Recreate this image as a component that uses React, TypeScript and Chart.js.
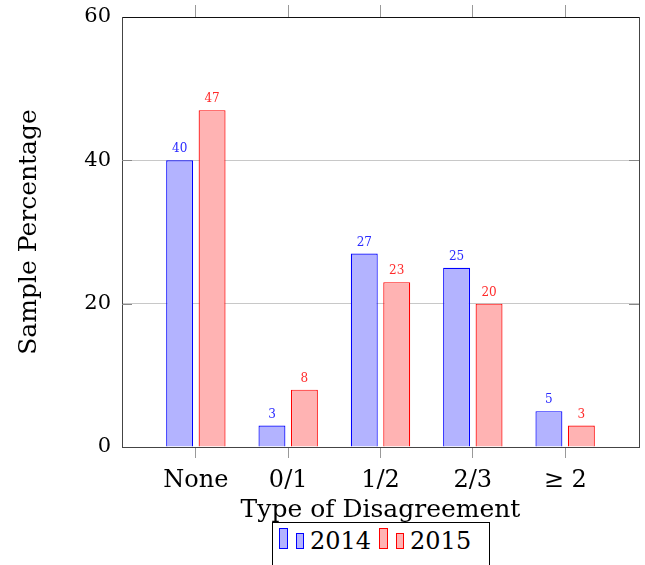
import React, { useEffect, useRef } from "react";
import { Chart, registerables } from "chart.js";

Chart.register(...registerables);

const categories = ["None", "0/1", "1/2", "2/3", "\u2265 2"];
const seriesNames = ["2014", "2015"];
const values2014 = [40, 3, 27, 25, 5];
const values2015 = [47, 8, 23, 20, 3];
const yTicks = [0, 20, 40, 60];

const FONT = "'DejaVu Serif', serif";
const BLUE_FILL = "#b3b3ff";
const BLUE_LINE = "#0000ff";
const RED_FILL = "#ffb3b3";
const RED_LINE = "#ff0000";

const catTicks = (scale: any) => {
  scale.ticks = categories.map((_, i) => ({ value: i }));
};

const noPad = (s: any) => {
  s.paddingTop = 0;
  s.paddingBottom = 0;
  s.paddingLeft = 0;
  s.paddingRight = 0;
};

const labelPlugin = {
  id: "barLabels",
  afterDatasetsDraw(chart: any) {
    const ctx = chart.ctx;
    ctx.save();
    ctx.font = `12px ${FONT}`;
    ctx.textAlign = "center";
    ctx.textBaseline = "alphabetic";
    chart.data.datasets.forEach((ds: any, di: number) => {
      const meta = chart.getDatasetMeta(di);
      ctx.fillStyle = ds.labelColor;
      meta.data.forEach((el: any, i: number) => {
        ctx.fillText(String(ds.data[i].y), el.x, el.y - 8);
      });
    });
    ctx.restore();
  },
};

const innerTicksPlugin = {
  id: "innerTicks",
  afterDraw(chart: any) {
    const ctx = chart.ctx;
    const y = chart.scales.y;
    const { left, right } = chart.chartArea;
    ctx.save();
    ctx.strokeStyle = "#888";
    ctx.lineWidth = 1;
    yTicks.slice(1, -1).forEach((v) => {
      const py = Math.round(y.getPixelForValue(v)) + 0.5;
      ctx.beginPath();
      ctx.moveTo(left, py);
      ctx.lineTo(left + 10, py);
      ctx.moveTo(right - 10, py);
      ctx.lineTo(right, py);
      ctx.stroke();
    });
    ctx.restore();
  },
};

export default function App() {
  const ref = useRef<HTMLCanvasElement>(null);
  useEffect(() => {
    if (!ref.current) return;
    const chart = new Chart(ref.current, {
      type: "bar",
      data: {
        datasets: [
          {
            label: seriesNames[0],
            data: values2014.map((v, i) => ({ x: i, y: v })),
            backgroundColor: BLUE_FILL,
            borderColor: BLUE_LINE,
            borderWidth: 1.2,
            labelColor: "#2a2aff",
          } as any,
          {
            label: seriesNames[1],
            data: values2015.map((v, i) => ({ x: i, y: v })),
            backgroundColor: RED_FILL,
            borderColor: RED_LINE,
            borderWidth: 1.2,
            labelColor: "#ff2a2a",
          } as any,
        ],
      },
      options: {
        responsive: false,
        animation: false,
        layout: { padding: 0 },
        categoryPercentage: 0.703,
        barPercentage: 0.83,
        plugins: { legend: { display: false }, tooltip: { enabled: false } },
        scales: {
          x: {
            type: "linear",
            position: "bottom",
            min: -0.8,
            max: 4.8,
            offset: false,
            afterBuildTicks: catTicks,
            afterFit: (s: any) => {
              s.height = 118;
              noPad(s);
            },
            grid: { offset: false, drawOnChartArea: false, drawTicks: true, tickLength: 11, color: "#999" },
            border: { display: true, color: "#444", width: 1 },
            ticks: {
              padding: 8,
              color: "#000",
              font: { family: FONT, size: 24 },
              callback: (v: any) => categories[v] ?? "",
              maxRotation: 0,
              autoSkip: false,
            },
            title: {
              display: true,
              text: "Type of Disagreement",
              color: "#000",
              font: { family: FONT, size: 25 },
              padding: { top: 0, bottom: 40 },
            },
          },
          x2: {
            type: "linear",
            position: "top",
            min: -0.8,
            max: 4.8,
            offset: false,
            afterBuildTicks: catTicks,
            afterFit: (s: any) => {
              s.height = 17;
              noPad(s);
            },
            grid: { offset: false, drawOnChartArea: false, drawTicks: true, tickLength: 12, color: "#999" },
            border: { display: true, color: "#111", width: 1 },
            ticks: { display: false },
          },
          y: {
            position: "left",
            min: 0,
            max: 60,
            afterBuildTicks: (s: any) => {
              s.ticks = yTicks.map((v) => ({ value: v }));
            },
            afterFit: (s: any) => {
              s.width = 122;
              noPad(s);
            },
            grid: {
              drawTicks: false,
              color: (c: any) => (c.tick && (c.tick.value === 0 || c.tick.value === 60) ? "rgba(0,0,0,0)" : "#c8c8c8"),
            },
            border: { display: true, color: "#444", width: 1 },
            ticks: { padding: 11, color: "#000", font: { family: FONT, size: 21 } },
            title: {
              display: true,
              text: "Sample Percentage",
              color: "#000",
              font: { family: FONT, size: 25 },
              padding: { top: 14, bottom: 0 },
            },
          },
          y2: {
            position: "right",
            min: 0,
            max: 60,
            afterFit: (s: any) => {
              s.width = 6;
              noPad(s);
            },
            grid: { drawOnChartArea: false, drawTicks: false },
            border: { display: true, color: "#444", width: 1 },
            ticks: { display: false },
          },
        },
      } as any,
      plugins: [labelPlugin, innerTicksPlugin],
    });
    return () => chart.destroy();
  }, []);

  const legendItems = [
    { name: seriesNames[0], fill: BLUE_FILL, line: BLUE_LINE },
    { name: seriesNames[1], fill: RED_FILL, line: RED_LINE },
  ];

  return (
    <div style={{ position: "fixed", left: 0, top: 0, width: 645, height: 565, background: "#fff", overflow: "hidden" }}>
      <canvas ref={ref} width={645} height={565} style={{ position: "absolute", left: 0, top: 0 }} />
      <div
        style={{
          position: "absolute",
          left: 272,
          top: 522,
          width: 210,
          height: 60,
          border: "1px solid #000",
          background: "#fff",
          display: "flex",
          alignItems: "baseline",
          paddingLeft: 6,
          paddingTop: 4,
          boxSizing: "content-box",
          fontFamily: FONT,
          fontSize: 24,
          lineHeight: "28px",
          color: "#000",
        }}
      >
        {legendItems.map((it, k) => (
          <React.Fragment key={it.name}>
            <span style={{ display: "inline-block", width: 7, height: 19, background: it.fill, border: `1px solid ${it.line}`, marginLeft: k === 0 ? 0 : 8 }} />
            <span style={{ display: "inline-block", width: 6, height: 14, background: it.fill, border: `1px solid ${it.line}`, marginLeft: 8 }} />
            <span style={{ marginLeft: 6 }}>{it.name}</span>
          </React.Fragment>
        ))}
      </div>
    </div>
  );
}
